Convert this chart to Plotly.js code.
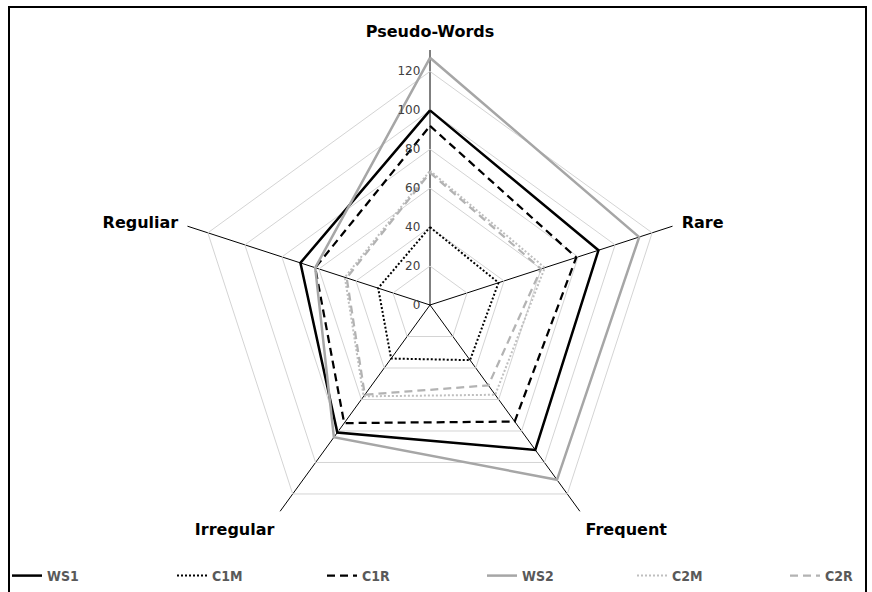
<!DOCTYPE html>
<html>
<head>
<meta charset="utf-8">
<script src="https://cdn.plot.ly/plotly-3.0.1.min.js"></script>
<style>
  html, body { margin: 0; padding: 0; background: #fff; }
  #chart { width: 872px; height: 592px; }
</style>
</head>
<body>
<div id="chart"></div>
<script>
// Categories (clockwise from top)
const categories = ['Pseudo-Words', 'Rare', 'Frequent', 'Irregular', 'Reguliar'];

// Series values
const WS1 = [100, 91, 92, 81, 70];
const C1M = [40, 37, 35, 34, 28];
const C1R = [92, 79, 74, 75, 62];
const WS2 = [127, 113, 111, 84, 62];
const C2M = [69, 62, 57, 58, 46];
const C2R = [68, 60, 51, 57, 45];

// Radial tick labels
const radialTicks = [0, 20, 40, 60, 80, 100, 120];

function closed(arr) { return arr.concat([arr[0]]); }

const W = 872, H = 592;
const px = x => x / W;
const py = y => 1 - y / H;

const seriesDefs = [
  { name: 'WS1', values: WS1, color: '#000000', dash: 'solid', width: 2.5, lx: 7 },
  { name: 'C1M', values: C1M, color: '#000000', dash: '2px,2px', width: 2, lx: 172 },
  { name: 'C1R', values: C1R, color: '#000000', dash: '8px,5px', width: 2.25, lx: 322 },
  { name: 'WS2', values: WS2, color: '#a6a6a6', dash: 'solid', width: 2.5, lx: 482 },
  { name: 'C2M', values: C2M, color: '#bfbfbf', dash: '2px,2px', width: 2, lx: 632 },
  { name: 'C2R', values: C2R, color: '#b3b3b3', dash: '8px,5px', width: 2.25, lx: 785 }
];

const legendFont = { family: 'Liberation Sans Narrow, DejaVu Sans Condensed, sans-serif', size: 14, color: '#595959', weight: 'bold' };

const traces = seriesDefs.map((s, i) => ({
  type: 'scatterpolar',
  mode: 'lines',
  name: s.name,
  r: closed(s.values),
  theta: closed(categories),
  line: { color: s.color, dash: s.dash, width: s.width },
  hoverinfo: 'skip',
  legend: i === 0 ? 'legend' : 'legend' + (i + 1)
}));

const layout = {
  width: W,
  height: H,
  paper_bgcolor: '#ffffff',
  plot_bgcolor: '#ffffff',
  margin: { l: 0, r: 0, t: 0, b: 0 },
  showlegend: true,
  polar: {
    domain: { x: [px(175), px(685)], y: [py(560), py(50)] },
    bgcolor: '#ffffff',
    gridshape: 'linear',
    angularaxis: {
      type: 'category',
      categoryarray: categories,
      rotation: 90,
      direction: 'clockwise',
      showline: false,
      showgrid: true,
      gridcolor: '#000000',
      gridwidth: 1,
      ticks: 'outside',
      ticklen: 6,
      tickcolor: 'rgba(0,0,0,0)',
      tickfont: { family: 'DejaVu Sans, sans-serif', size: 16, color: '#000000', weight: 'bold' }
    },
    radialaxis: {
      range: [0, 131],
      tickvals: radialTicks,
      ticktext: radialTicks.map(String),
      showline: false,
      showgrid: true,
      gridcolor: '#d4d4d4',
      gridwidth: 1,
      ticks: 'outside',
      ticklen: 5,
      tickcolor: 'rgba(0,0,0,0)',
      angle: 90,
      tickangle: 90,
      side: 'counterclockwise',
      tickfont: { family: 'DejaVu Sans, sans-serif', size: 12, color: '#404040' }
    }
  },
  shapes: [{
    type: 'rect',
    xref: 'paper', yref: 'paper',
    x0: px(9), x1: px(866), y0: py(600), y1: py(7),
    line: { color: '#000000', width: 2 },
    fillcolor: 'rgba(0,0,0,0)'
  }]
};

seriesDefs.forEach((s, i) => {
  const key = i === 0 ? 'legend' : 'legend' + (i + 1);
  layout[key] = {
    orientation: 'h',
    x: px(s.lx),
    xanchor: 'left',
    y: py(576),
    yanchor: 'middle',
    font: legendFont,
    bgcolor: 'rgba(0,0,0,0)',
    itemwidth: 30
  };
});

Plotly.newPlot('chart', traces, layout, { staticPlot: true, displayModeBar: false });
</script>
</body>
</html>
